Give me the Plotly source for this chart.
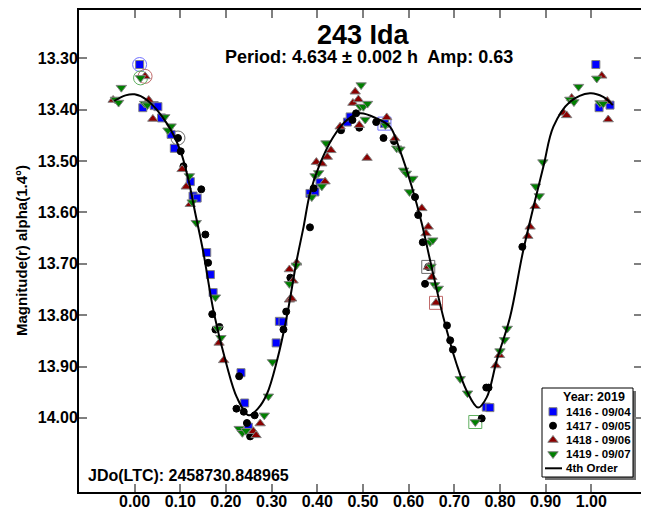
import plotly.graph_objects as go

# ---- data (phase, reduced magnitude) ----
phase_1416 = [0.011, 0.018, 0.043, 0.051, 0.059, 0.080, 0.087, 0.122, 0.128, 0.137,
              0.158, 0.166, 0.172, 0.233, 0.241, 0.249, 0.310, 0.317, 0.325, 0.384,
              0.395, 0.406, 0.466, 0.472, 0.547, 0.770, 0.778, 1.010, 1.017, 1.041]
mag_1416 = [13.312, 13.396, 13.392, 13.394, 13.416, 13.448, 13.475, 13.540, 13.568, 13.572,
            13.678, 13.721, 13.756, 13.912, 13.971, 14.018, 13.854, 13.812, 13.813, 13.563,
            13.560, 13.542, 13.424, 13.414, 13.427, 13.979, 13.980, 13.312, 13.396, 13.391]

phase_1417 = [0.095, 0.101, 0.107, 0.146, 0.155, 0.161, 0.170, 0.177, 0.186, 0.223,
              0.229, 0.239, 0.246, 0.253, 0.263, 0.326, 0.332, 0.341, 0.384, 0.392,
              0.452, 0.477, 0.485, 0.492, 0.529, 0.545, 0.568, 0.614, 0.621, 0.631,
              0.636, 0.643, 0.684, 0.691, 0.697, 0.760, 0.770, 0.775, 0.849]
mag_1417 = [13.455, 13.481, 13.510, 13.555, 13.643, 13.698, 13.798, 13.828, 13.823, 13.982,
            13.919, 13.988, 14.010, 14.036, 13.995, 13.828, 13.793, 13.727, 13.629, 13.553,
            13.440, 13.420, 13.407, 13.435, 13.424, 13.455, 13.461, 13.570, 13.605, 13.658,
            13.739, 13.706, 13.820, 13.849, 13.867, 14.001, 13.941, 13.941, 13.667]

phase_1418 = [-0.047, 0.023, 0.031, 0.040, 0.104, 0.113, 0.122, 0.185, 0.195, 0.260,
              0.266, 0.275, 0.339, 0.344, 0.339, 0.347, 0.355, 0.398, 0.410, 0.417,
              0.422, 0.430, 0.450, 0.478, 0.483, 0.490, 0.492, 0.509, 0.552, 0.570,
              0.629, 0.638, 0.643, 0.643, 0.651, 0.660, 0.791, 0.799, 0.861, 0.866,
              0.877, 0.939, 0.946, 0.957, 1.023, 1.035, 1.037]
mag_1418 = [13.381, 13.335, 13.381, 13.418, 13.516, 13.550, 13.584, 13.854, 13.888, 14.026,
            14.034, 14.011, 13.770, 13.768, 13.711, 13.733, 13.698, 13.502, 13.505, 13.540,
            13.492, 13.479, 13.433, 13.387, 13.365, 13.380, 13.430, 13.494, 13.415, 13.456,
            13.592, 13.641, 13.628, 13.706, 13.726, 13.776, 13.898, 13.878, 13.646, 13.628,
            13.588, 13.406, 13.411, 13.377, 13.334, 13.383, 13.419]

phase_1419 = [-0.042, -0.035, -0.029, 0.013, 0.022, 0.028, 0.066, 0.073, 0.080, 0.120,
              0.126, 0.135, 0.177, 0.182, 0.189, 0.229, 0.236, 0.244, 0.284, 0.293,
              0.302, 0.339, 0.354, 0.388, 0.395, 0.403, 0.410, 0.419, 0.494, 0.496,
              0.501, 0.505, 0.510, 0.549, 0.574, 0.581, 0.589, 0.595, 0.602, 0.609,
              0.647, 0.653, 0.649, 0.657, 0.665, 0.713, 0.729, 0.746, 0.800, 0.810,
              0.816, 0.878, 0.886, 0.894, 0.953, 0.962, 0.972, 1.012, 1.019, 1.026]
mag_1419 = [13.380, 13.386, 13.357, 13.338, 13.388, 13.391, 13.414, 13.440, 13.432, 13.529,
            13.580, 13.620, 13.765, 13.826, 13.844, 14.021, 14.029, 14.025, 13.995, 13.958,
            13.891, 13.739, 13.703, 13.570, 13.529, 13.523, 13.549, 13.465, 13.394, 13.352,
            13.394, 13.419, 13.388, 13.430, 13.475, 13.477, 13.518, 13.524, 13.560, 13.534,
            13.658, 13.654, 13.705, 13.741, 13.748, 13.924, 13.952, 14.008, 13.870, 13.848,
            13.826, 13.549, 13.568, 13.502, 13.380, 13.385, 13.355, 13.339, 13.387, 13.388]

# 4th order Fourier fit, sampled from the plot
fit_phase = [-0.045, -0.020, 0.000, 0.027, 0.071, 0.100, 0.118, 0.133, 0.150, 0.174,
             0.201, 0.224, 0.250, 0.270, 0.290, 0.312, 0.333, 0.355, 0.370, 0.384,
             0.406, 0.435, 0.465, 0.494, 0.530, 0.559, 0.581, 0.607, 0.629, 0.647,
             0.676, 0.705, 0.727, 0.752, 0.771, 0.793, 0.822, 0.851, 0.895, 0.917,
             0.953, 0.997, 1.026, 1.047]
fit_mag = [13.383, 13.372, 13.370, 13.381, 13.427, 13.479, 13.537, 13.602, 13.675, 13.797,
           13.895, 13.960, 13.995, 13.982, 13.953, 13.888, 13.804, 13.693, 13.628, 13.563,
           13.505, 13.453, 13.420, 13.407, 13.417, 13.433, 13.479, 13.550, 13.622, 13.693,
           13.804, 13.895, 13.947, 13.980, 13.960, 13.888, 13.804, 13.674, 13.511, 13.433,
           13.385, 13.368, 13.375, 13.391]

# flagged points (circled / boxed in the original)
circle_phase = [0.011, 0.023, 0.013, 0.095]
circle_mag = [13.312, 13.335, 13.338, 13.455]
circle_session = ["1416", "1418", "1419", "1417"]
box_phase = [0.547, 0.643, 0.660, 0.746]
box_mag = [13.427, 13.706, 13.776, 14.008]
box_session = ["1416", "1417", "1418", "1419"]

sessions = ["1416", "1417", "1418", "1419"]
session_dates = ["09/04", "09/05", "09/06", "09/07"]
year = "2019"

colors = {"1416": "#0000FF", "1417": "#000000", "1418": "#8B0000", "1419": "#008000"}
ring_colors = {"1416": "#6F6FFF", "1417": "#6A6A6A", "1418": "#C06A6A", "1419": "#60B060"}
symbols = {"1416": "square", "1417": "circle", "1418": "triangle-up", "1419": "triangle-down"}
sizes = {"1416": 8, "1417": 7, "1418": 9, "1419": 9}
data = {"1416": (phase_1416, mag_1416), "1417": (phase_1417, mag_1417),
        "1418": (phase_1418, mag_1418), "1419": (phase_1419, mag_1419)}

FONT = "Liberation Sans, Arial, sans-serif"

# the page body adds an 8px margin, so the figure is shrunk by that much
PAGE_OFF = 8
# plot frame on screen
PL, PR, PT, PB = 79, 642, 10, 492

fig = go.Figure()

# flag rings first so the points sit on top
for s in sessions:
    cx = [p for p, k in zip(circle_phase, circle_session) if k == s]
    cy = [m for m, k in zip(circle_mag, circle_session) if k == s]
    bx = [p for p, k in zip(box_phase, box_session) if k == s]
    by = [m for m, k in zip(box_mag, box_session) if k == s]
    fig.add_trace(go.Scatter(x=cx, y=cy, mode="markers", showlegend=False, hoverinfo="skip",
                             marker=dict(symbol="circle-open", size=14, color=ring_colors[s],
                                         line=dict(width=1))))
    fig.add_trace(go.Scatter(x=bx, y=by, mode="markers", showlegend=False, hoverinfo="skip",
                             marker=dict(symbol="square-open", size=13, color=ring_colors[s],
                                         line=dict(width=1))))

for s in sessions:
    px_, py_ = data[s]
    outline = "#000000" if s == "1417" else "#808080"
    fig.add_trace(go.Scatter(x=px_, y=py_, mode="markers", showlegend=False,
                             name=s,
                             marker=dict(symbol=symbols[s], size=sizes[s], color=colors[s],
                                         line=dict(color=outline, width=1))))

fig.add_trace(go.Scatter(x=fit_phase, y=fit_mag, mode="lines", showlegend=False,
                         line=dict(color="black", width=2, shape="spline", smoothing=1.0)))

# ---- hand-built legend on an overlay axis measured in screen pixels ----
L_LEFT, L_TOP, L_RIGHT, L_BOT = 542, 388, 633, 477
row_y = [411.7, 425.7, 440.0, 454.0, 468.3]
mark_x = 553
text_x = 564

for i, s in enumerate(sessions):
    outline = "#000000" if s == "1417" else "#808080"
    fig.add_trace(go.Scatter(x=[mark_x], y=[row_y[i]], xaxis="x2", yaxis="y2",
                             mode="markers", showlegend=False, hoverinfo="skip",
                             marker=dict(symbol=symbols[s], size=sizes[s], color=colors[s],
                                         line=dict(color=outline, width=1))))
fig.add_trace(go.Scatter(x=[545, 562], y=[row_y[4], row_y[4]], xaxis="x2", yaxis="y2",
                         mode="lines", showlegend=False, hoverinfo="skip",
                         line=dict(color="black", width=2)))

shapes = [
    dict(type="rect", xref="x2", yref="y2", x0=L_LEFT + 3, x1=L_RIGHT + 3, y0=L_TOP + 3,
         y1=L_BOT + 3, fillcolor="#707070", line=dict(width=0), layer="below"),
    dict(type="rect", xref="x2", yref="y2", x0=L_LEFT, x1=L_RIGHT, y0=L_TOP, y1=L_BOT,
         fillcolor="white", line=dict(color="black", width=1), layer="below"),
]

LEG_FONT = dict(family=FONT, size=11.5, color="black")
annotations = [
    dict(text="<b>Year: %s</b>" % year, xref="x2", yref="y2", x=594, y=396.7,
         showarrow=False, font=dict(family=FONT, size=12.5, color="black"),
         xanchor="center", yanchor="middle"),
]
for i, s in enumerate(sessions):
    annotations.append(dict(text="<b>%s - %s</b>" % (s, session_dates[i]), xref="x2", yref="y2",
                            x=text_x, y=row_y[i], showarrow=False, font=LEG_FONT,
                            xanchor="left", yanchor="middle"))
annotations.append(dict(text="<b>4th Order</b>", xref="x2", yref="y2", x=text_x, y=row_y[4],
                        showarrow=False, font=LEG_FONT, xanchor="left", yanchor="middle"))

# titles and labels
annotations += [
    dict(text="<b>243 Ida</b>", xref="x2", yref="y2", x=363, y=35, showarrow=False,
         font=dict(family=FONT, size=27, color="black"), xanchor="center", yanchor="middle"),
    dict(text="<b>Period: 4.634 \u00b1 0.002 h  Amp: 0.63</b>", xref="x2", yref="y2",
         x=369, y=56.5, showarrow=False, font=dict(family=FONT, size=18, color="black"),
         xanchor="center", yanchor="middle"),
    dict(text="<b>JDo(LTC): 2458730.848965</b>", xref="x2", yref="y2", x=86, y=475,
         showarrow=False, font=dict(family=FONT, size=16, color="black"),
         xanchor="left", yanchor="middle"),
    dict(text="<b>Magnitude(r) alpha(1.4\u00b0)</b>", xref="paper", yref="paper",
         x=(21 - PL) / (PR - PL), y=(PB - 251) / (PB - PT), textangle=-90, showarrow=False,
         font=dict(family=FONT, size=15, color="black"), xanchor="center", yanchor="middle"),
]

axis_common = dict(showline=True, linewidth=2, linecolor="black", mirror="ticks",
                   ticks="inside", ticklen=8, tickwidth=1.5, tickcolor="#808080",
                   showgrid=False, zeroline=False, automargin=False,
                   tickfont=dict(family=FONT, size=16, color="black", weight="bold"))

fig.update_layout(
    width=649 - PAGE_OFF, height=513 - PAGE_OFF,
    margin=dict(l=PL - PAGE_OFF, r=649 - PR, t=PT - PAGE_OFF, b=513 - PB),
    paper_bgcolor="white", plot_bgcolor="white",
    xaxis=dict(range=[-0.1217, 1.111], tickvals=[i / 10 for i in range(11)],
               tickformat=".2f", ticklabelstandoff=-6, **axis_common),
    yaxis=dict(range=[14.1443, 13.2058], tickvals=[13.3 + i / 10 for i in range(8)],
               tickformat=".2f", ticklabelstandoff=-4, **axis_common),
    xaxis2=dict(overlaying="x", range=[PL, PR], visible=False, fixedrange=True,
                automargin=False),
    yaxis2=dict(overlaying="y", range=[PB, PT], visible=False, fixedrange=True,
                automargin=False),
    shapes=shapes,
    annotations=annotations,
    showlegend=False,
)

fig.write_html("out.html")
